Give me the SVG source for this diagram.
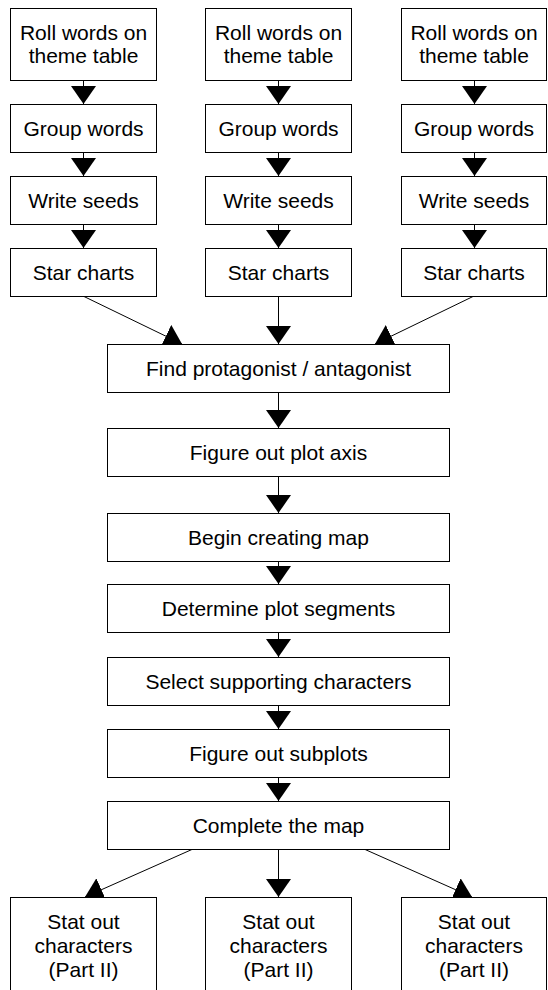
<svg xmlns="http://www.w3.org/2000/svg" width="548" height="990" viewBox="0 0 548 990">
<style>
.box{fill:#fff;stroke:#000;stroke-width:1}
.t{font-family:"Liberation Sans",Arial,sans-serif;font-size:21px;fill:#000;text-anchor:middle}
.c{stroke:#000;stroke-width:1;fill:none;marker-end:url(#ah)}
</style>
<defs>
<marker id="ah" markerUnits="userSpaceOnUse" markerWidth="20" markerHeight="26" refX="18" refY="12.5" orient="auto" viewBox="0 0 20 26">
<path d="M0,0 L18,12.5 L0,25 Z" fill="#000"/>
</marker>
</defs>
<rect width="548" height="990" fill="#fff"/>
<g id="connectors">
<line class="c" x1="83.5" y1="80" x2="83.5" y2="104"/>
<line class="c" x1="83.5" y1="152" x2="83.5" y2="176"/>
<line class="c" x1="83.5" y1="224" x2="83.5" y2="248"/>
<line class="c" x1="278.5" y1="80" x2="278.5" y2="104"/>
<line class="c" x1="278.5" y1="152" x2="278.5" y2="176"/>
<line class="c" x1="278.5" y1="224" x2="278.5" y2="248"/>
<line class="c" x1="474.5" y1="80" x2="474.5" y2="104"/>
<line class="c" x1="474.5" y1="152" x2="474.5" y2="176"/>
<line class="c" x1="474.5" y1="224" x2="474.5" y2="248"/>
<line class="c" x1="83" y1="296" x2="182" y2="344"/>
<line class="c" x1="278.5" y1="296" x2="278.5" y2="344"/>
<line class="c" x1="474" y1="296" x2="375" y2="344"/>
<line class="c" x1="278.5" y1="392" x2="278.5" y2="428"/>
<line class="c" x1="278.5" y1="476" x2="278.5" y2="513"/>
<line class="c" x1="278.5" y1="561" x2="278.5" y2="584"/>
<line class="c" x1="278.5" y1="632" x2="278.5" y2="657"/>
<line class="c" x1="278.5" y1="705" x2="278.5" y2="729"/>
<line class="c" x1="278.5" y1="777" x2="278.5" y2="801"/>
<line class="c" x1="193" y1="849" x2="85" y2="897"/>
<line class="c" x1="278.5" y1="849" x2="278.5" y2="897"/>
<line class="c" x1="364" y1="849" x2="472" y2="897"/>
</g>
<g id="roll1"><rect class="box" x="10.5" y="8.5" width="146" height="72"/><text class="t" x="83.5" y="40">Roll words on</text><text class="t" x="83.5" y="63">theme table</text></g>
<g id="group1"><rect class="box" x="10.5" y="104.5" width="146" height="48"/><text class="t" x="83.5" y="135.5">Group words</text></g>
<g id="seeds1"><rect class="box" x="10.5" y="176.5" width="146" height="48"/><text class="t" x="83.5" y="207.5">Write seeds</text></g>
<g id="star1"><rect class="box" x="10.5" y="248.5" width="146" height="48"/><text class="t" x="83.5" y="279.5">Star charts</text></g>
<g id="roll2"><rect class="box" x="205.5" y="8.5" width="146" height="72"/><text class="t" x="278.5" y="40">Roll words on</text><text class="t" x="278.5" y="63">theme table</text></g>
<g id="group2"><rect class="box" x="205.5" y="104.5" width="146" height="48"/><text class="t" x="278.5" y="135.5">Group words</text></g>
<g id="seeds2"><rect class="box" x="205.5" y="176.5" width="146" height="48"/><text class="t" x="278.5" y="207.5">Write seeds</text></g>
<g id="star2"><rect class="box" x="205.5" y="248.5" width="146" height="48"/><text class="t" x="278.5" y="279.5">Star charts</text></g>
<g id="roll3"><rect class="box" x="401.5" y="8.5" width="145" height="72"/><text class="t" x="474" y="40">Roll words on</text><text class="t" x="474" y="63">theme table</text></g>
<g id="group3"><rect class="box" x="401.5" y="104.5" width="145" height="48"/><text class="t" x="474" y="135.5">Group words</text></g>
<g id="seeds3"><rect class="box" x="401.5" y="176.5" width="145" height="48"/><text class="t" x="474" y="207.5">Write seeds</text></g>
<g id="star3"><rect class="box" x="401.5" y="248.5" width="145" height="48"/><text class="t" x="474" y="279.5">Star charts</text></g>
<g id="find"><rect class="box" x="107.5" y="344.5" width="342" height="48"/><text class="t" x="278.5" y="375.5">Find protagonist / antagonist</text></g>
<g id="axis"><rect class="box" x="107.5" y="428.5" width="342" height="48"/><text class="t" x="278.5" y="459.5">Figure out plot axis</text></g>
<g id="begin"><rect class="box" x="107.5" y="513.5" width="342" height="48"/><text class="t" x="278.5" y="544.5">Begin creating map</text></g>
<g id="segments"><rect class="box" x="107.5" y="584.5" width="342" height="48"/><text class="t" x="278.5" y="615.5">Determine plot segments</text></g>
<g id="supporting"><rect class="box" x="107.5" y="657.5" width="342" height="48"/><text class="t" x="278.5" y="688.5">Select supporting characters</text></g>
<g id="subplots"><rect class="box" x="107.5" y="729.5" width="342" height="48"/><text class="t" x="278.5" y="760.5">Figure out subplots</text></g>
<g id="complete"><rect class="box" x="107.5" y="801.5" width="342" height="48"/><text class="t" x="278.5" y="832.5">Complete the map</text></g>
<g id="stat1"><rect class="box" x="10.5" y="897.5" width="146" height="100"/><text class="t" x="83.5" y="929">Stat out</text><text class="t" x="83.5" y="953">characters</text><text class="t" x="83.5" y="977">(Part II)</text></g>
<g id="stat2"><rect class="box" x="205.5" y="897.5" width="146" height="100"/><text class="t" x="278.5" y="929">Stat out</text><text class="t" x="278.5" y="953">characters</text><text class="t" x="278.5" y="977">(Part II)</text></g>
<g id="stat3"><rect class="box" x="401.5" y="897.5" width="145" height="100"/><text class="t" x="474" y="929">Stat out</text><text class="t" x="474" y="953">characters</text><text class="t" x="474" y="977">(Part II)</text></g>
</svg>
